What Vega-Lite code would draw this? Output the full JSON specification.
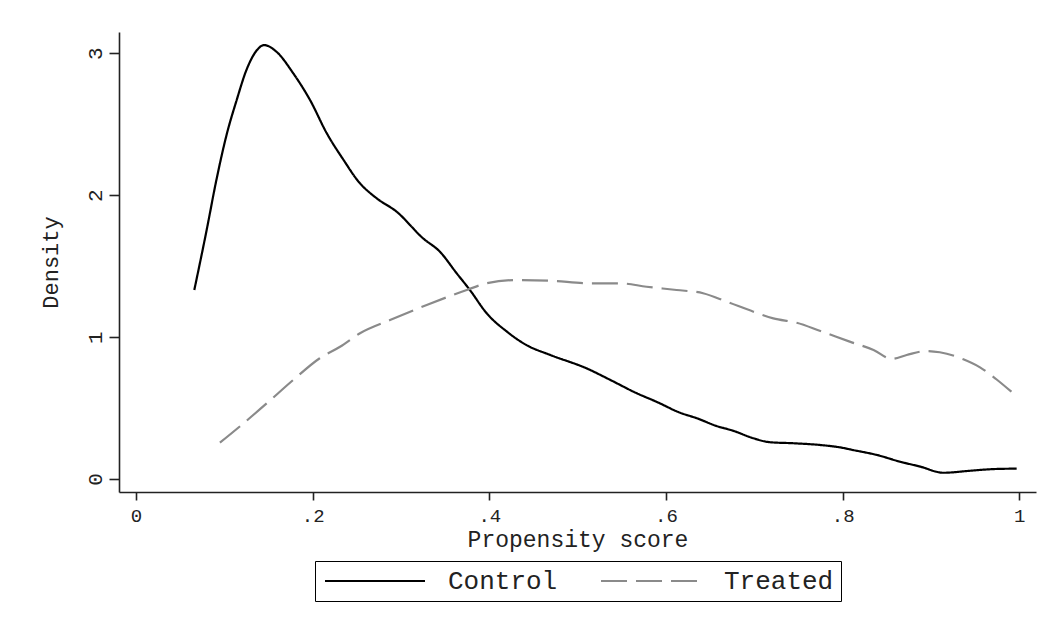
{
  "$schema": "https://vega.github.io/schema/vega-lite/v6.json",
  "autosize": {"type": "none"},
  "padding": {"left": 119, "top": 32, "right": 15, "bottom": 132},
  "width": 917,
  "height": 460,
  "background": "white",
  "config": {
    "font": "Liberation Mono",
    "view": {"stroke": null},
    "legend": {"layout": {"bottom": {"anchor": "middle"}}},
    "axis": {
      "grid": false,
      "domainColor": "#222222",
      "domainWidth": 1.6,
      "tickColor": "#222222",
      "tickWidth": 1.6,
      "labelColor": "#222222",
      "titleColor": "#222222",
      "labelFont": "Liberation Mono",
      "titleFont": "Liberation Mono",
      "titleFontWeight": "normal"
    }
  },
  "data": {
    "values": [
      {"x": 0.066, "y": 1.332, "g": "Control"},
      {"x": 0.080, "y": 1.755, "g": "Control"},
      {"x": 0.091, "y": 2.107, "g": "Control"},
      {"x": 0.103, "y": 2.436, "g": "Control"},
      {"x": 0.114, "y": 2.671, "g": "Control"},
      {"x": 0.125, "y": 2.882, "g": "Control"},
      {"x": 0.137, "y": 3.023, "g": "Control"},
      {"x": 0.145, "y": 3.058, "g": "Control"},
      {"x": 0.159, "y": 3.011, "g": "Control"},
      {"x": 0.178, "y": 2.859, "g": "Control"},
      {"x": 0.197, "y": 2.671, "g": "Control"},
      {"x": 0.216, "y": 2.436, "g": "Control"},
      {"x": 0.235, "y": 2.248, "g": "Control"},
      {"x": 0.252, "y": 2.095, "g": "Control"},
      {"x": 0.2725, "y": 1.978, "g": "Control"},
      {"x": 0.295, "y": 1.884, "g": "Control"},
      {"x": 0.325, "y": 1.696, "g": "Control"},
      {"x": 0.344, "y": 1.602, "g": "Control"},
      {"x": 0.363, "y": 1.450, "g": "Control"},
      {"x": 0.378, "y": 1.332, "g": "Control"},
      {"x": 0.397, "y": 1.168, "g": "Control"},
      {"x": 0.420, "y": 1.038, "g": "Control"},
      {"x": 0.442, "y": 0.944, "g": "Control"},
      {"x": 0.469, "y": 0.874, "g": "Control"},
      {"x": 0.510, "y": 0.780, "g": "Control"},
      {"x": 0.537, "y": 0.698, "g": "Control"},
      {"x": 0.567, "y": 0.604, "g": "Control"},
      {"x": 0.589, "y": 0.545, "g": "Control"},
      {"x": 0.616, "y": 0.467, "g": "Control"},
      {"x": 0.635, "y": 0.428, "g": "Control"},
      {"x": 0.657, "y": 0.374, "g": "Control"},
      {"x": 0.676, "y": 0.340, "g": "Control"},
      {"x": 0.699, "y": 0.287, "g": "Control"},
      {"x": 0.718, "y": 0.259, "g": "Control"},
      {"x": 0.744, "y": 0.252, "g": "Control"},
      {"x": 0.774, "y": 0.240, "g": "Control"},
      {"x": 0.797, "y": 0.223, "g": "Control"},
      {"x": 0.812, "y": 0.204, "g": "Control"},
      {"x": 0.839, "y": 0.169, "g": "Control"},
      {"x": 0.865, "y": 0.122, "g": "Control"},
      {"x": 0.888, "y": 0.087, "g": "Control"},
      {"x": 0.914, "y": 0.044, "g": "Control"},
      {"x": 0.944, "y": 0.058, "g": "Control"},
      {"x": 0.971, "y": 0.070, "g": "Control"},
      {"x": 0.997, "y": 0.073, "g": "Control"},
      {"x": 0.095, "y": 0.256, "g": "Treated"},
      {"x": 0.118, "y": 0.373, "g": "Treated"},
      {"x": 0.148, "y": 0.533, "g": "Treated"},
      {"x": 0.178, "y": 0.698, "g": "Treated"},
      {"x": 0.208, "y": 0.851, "g": "Treated"},
      {"x": 0.231, "y": 0.932, "g": "Treated"},
      {"x": 0.2536, "y": 1.027, "g": "Treated"},
      {"x": 0.2876, "y": 1.120, "g": "Treated"},
      {"x": 0.3291, "y": 1.226, "g": "Treated"},
      {"x": 0.3744, "y": 1.332, "g": "Treated"},
      {"x": 0.397, "y": 1.379, "g": "Treated"},
      {"x": 0.431, "y": 1.402, "g": "Treated"},
      {"x": 0.469, "y": 1.397, "g": "Treated"},
      {"x": 0.514, "y": 1.379, "g": "Treated"},
      {"x": 0.548, "y": 1.379, "g": "Treated"},
      {"x": 0.578, "y": 1.355, "g": "Treated"},
      {"x": 0.612, "y": 1.332, "g": "Treated"},
      {"x": 0.642, "y": 1.309, "g": "Treated"},
      {"x": 0.669, "y": 1.249, "g": "Treated"},
      {"x": 0.699, "y": 1.179, "g": "Treated"},
      {"x": 0.7215, "y": 1.132, "g": "Treated"},
      {"x": 0.748, "y": 1.101, "g": "Treated"},
      {"x": 0.774, "y": 1.045, "g": "Treated"},
      {"x": 0.808, "y": 0.968, "g": "Treated"},
      {"x": 0.835, "y": 0.909, "g": "Treated"},
      {"x": 0.8555, "y": 0.846, "g": "Treated"},
      {"x": 0.8725, "y": 0.874, "g": "Treated"},
      {"x": 0.895, "y": 0.902, "g": "Treated"},
      {"x": 0.910, "y": 0.893, "g": "Treated"},
      {"x": 0.9366, "y": 0.844, "g": "Treated"},
      {"x": 0.9555, "y": 0.787, "g": "Treated"},
      {"x": 0.974, "y": 0.703, "g": "Treated"},
      {"x": 0.991, "y": 0.615, "g": "Treated"}
    ]
  },
  "mark": {"type": "line", "interpolate": "monotone", "strokeWidth": 2.2},
  "encoding": {
    "x": {
      "field": "x",
      "type": "quantitative",
      "scale": {"domain": [-0.01925, 1.0189], "nice": false, "zero": false},
      "axis": {
        "title": "Propensity score",
        "values": [0, 0.2, 0.4, 0.6, 0.8, 1],
        "labelExpr": "replace(format(datum.value, '~g'), '0.', '.')",
        "tickSize": 8,
        "labelPadding": 6,
        "labelFontSize": 19,
        "titleFontSize": 23,
        "titlePadding": 3
      }
    },
    "y": {
      "field": "y",
      "type": "quantitative",
      "scale": {"domain": [-0.0916, 3.15], "nice": false, "zero": false},
      "axis": {
        "title": "Density",
        "values": [0, 1, 2, 3],
        "tickSize": 10,
        "labelAngle": 270,
        "labelAlign": "center",
        "labelBaseline": "alphabetic",
        "labelPadding": 8,
        "labelFontSize": 21,
        "titleFontSize": 22,
        "titlePadding": 22
      }
    },
    "color": {
      "field": "g",
      "type": "nominal",
      "scale": {"domain": ["Control", "Treated"], "range": ["#000000", "#8a8a8a"]},
      "legend": {
        "title": null,
        "orient": "bottom",
        "direction": "horizontal",
        "symbolType": "M-1,0H9",
        "symbolSize": 400,
        "symbolStrokeWidth": 2.2,
        "labelFontSize": 26,
        "labelFont": "Liberation Mono",
        "labelColor": "#222222",
        "labelOffset": 100,
        "columnPadding": 38,
        "padding": 7,
        "strokeColor": "#000000",
        "offset": 10
      }
    },
    "strokeDash": {
      "field": "g",
      "type": "nominal",
      "scale": {"domain": ["Control", "Treated"], "range": [[1, 0], [26, 9]]},
      "legend": {
        "title": null,
        "orient": "bottom",
        "direction": "horizontal",
        "symbolType": "M-1,0H9",
        "symbolSize": 400,
        "symbolStrokeWidth": 2.2,
        "labelFontSize": 26,
        "labelFont": "Liberation Mono",
        "labelColor": "#222222",
        "labelOffset": 100,
        "columnPadding": 38,
        "padding": 7,
        "strokeColor": "#000000",
        "offset": 10
      }
    }
  }
}
